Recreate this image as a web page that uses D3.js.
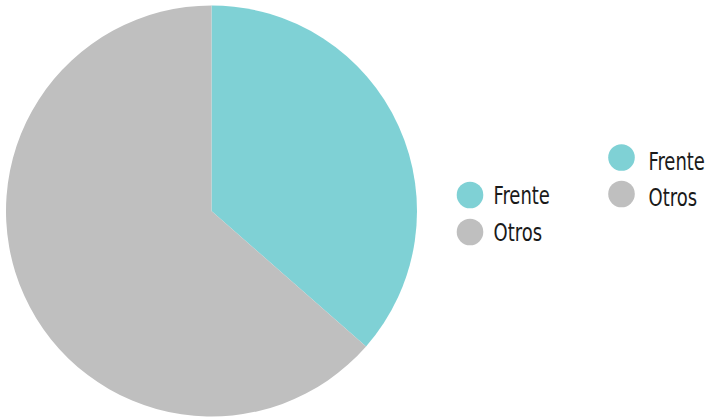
<!DOCTYPE html>
<html lang="es">
  <head>
    <meta charset="utf-8">
    <title>Frente vs Otros</title>
    <script src="https://cdn.jsdelivr.net/npm/d3@7"></script>
    <style>
      body { margin: 0; background: #fff; }
      .legend text {
        font-family: "DejaVu Sans Condensed", "Liberation Sans Narrow", sans-serif;
        font-size: 25px;
        fill: #1a1a1a;
      }
    </style>
  </head>
  <body>
    <script>
      var categories = ["Frente", "Otros"];
      var values = [36.45, 63.55];
      var colors = ["#7fd1d5", "#bfbfbf"];

      var width = 710, height = 417;

      var svg = d3.select("body")
                  .append("svg")
                  .attr("width", width)
                  .attr("height", height);

      var data = categories.map((c, i) => ({name: c, value: values[i]}));

      var color = d3.scaleOrdinal()
                    .domain(categories)
                    .range(colors);

      var pie = d3.pie()
                  .sort(null)
                  .value(d => d.value);

      var arc = d3.arc()
                  .innerRadius(0)
                  .outerRadius(205.5);

      svg.append("g")
         .attr("transform", "translate(211.5,211)")
         .selectAll("path")
         .data(pie(data))
         .enter()
         .append("path")
           .attr("d", arc)
           .attr("fill", d => color(d.data.name));

      // two legends, same as the original
      function legend(x, y, step, tx, ty) {
        var g = svg.append("g")
                   .attr("class", "legend")
                   .attr("transform", "translate(" + x + "," + y + ")");
        var item = g.selectAll("g")
                    .data(categories)
                    .enter()
                    .append("g")
                      .attr("transform", (d, i) => "translate(0," + i * step + ")");
        item.append("circle")
            .attr("r", 13.3)
            .attr("fill", d => color(d));
        item.append("text")
            .attr("transform", "translate(" + tx + "," + ty + ") scale(0.8,1)")
            .text(d => d);
      }

      legend(470, 195, 37, 23.5, 9);
      legend(621.5, 157.5, 36.5, 27, 12);
    </script>
  </body>
</html>
